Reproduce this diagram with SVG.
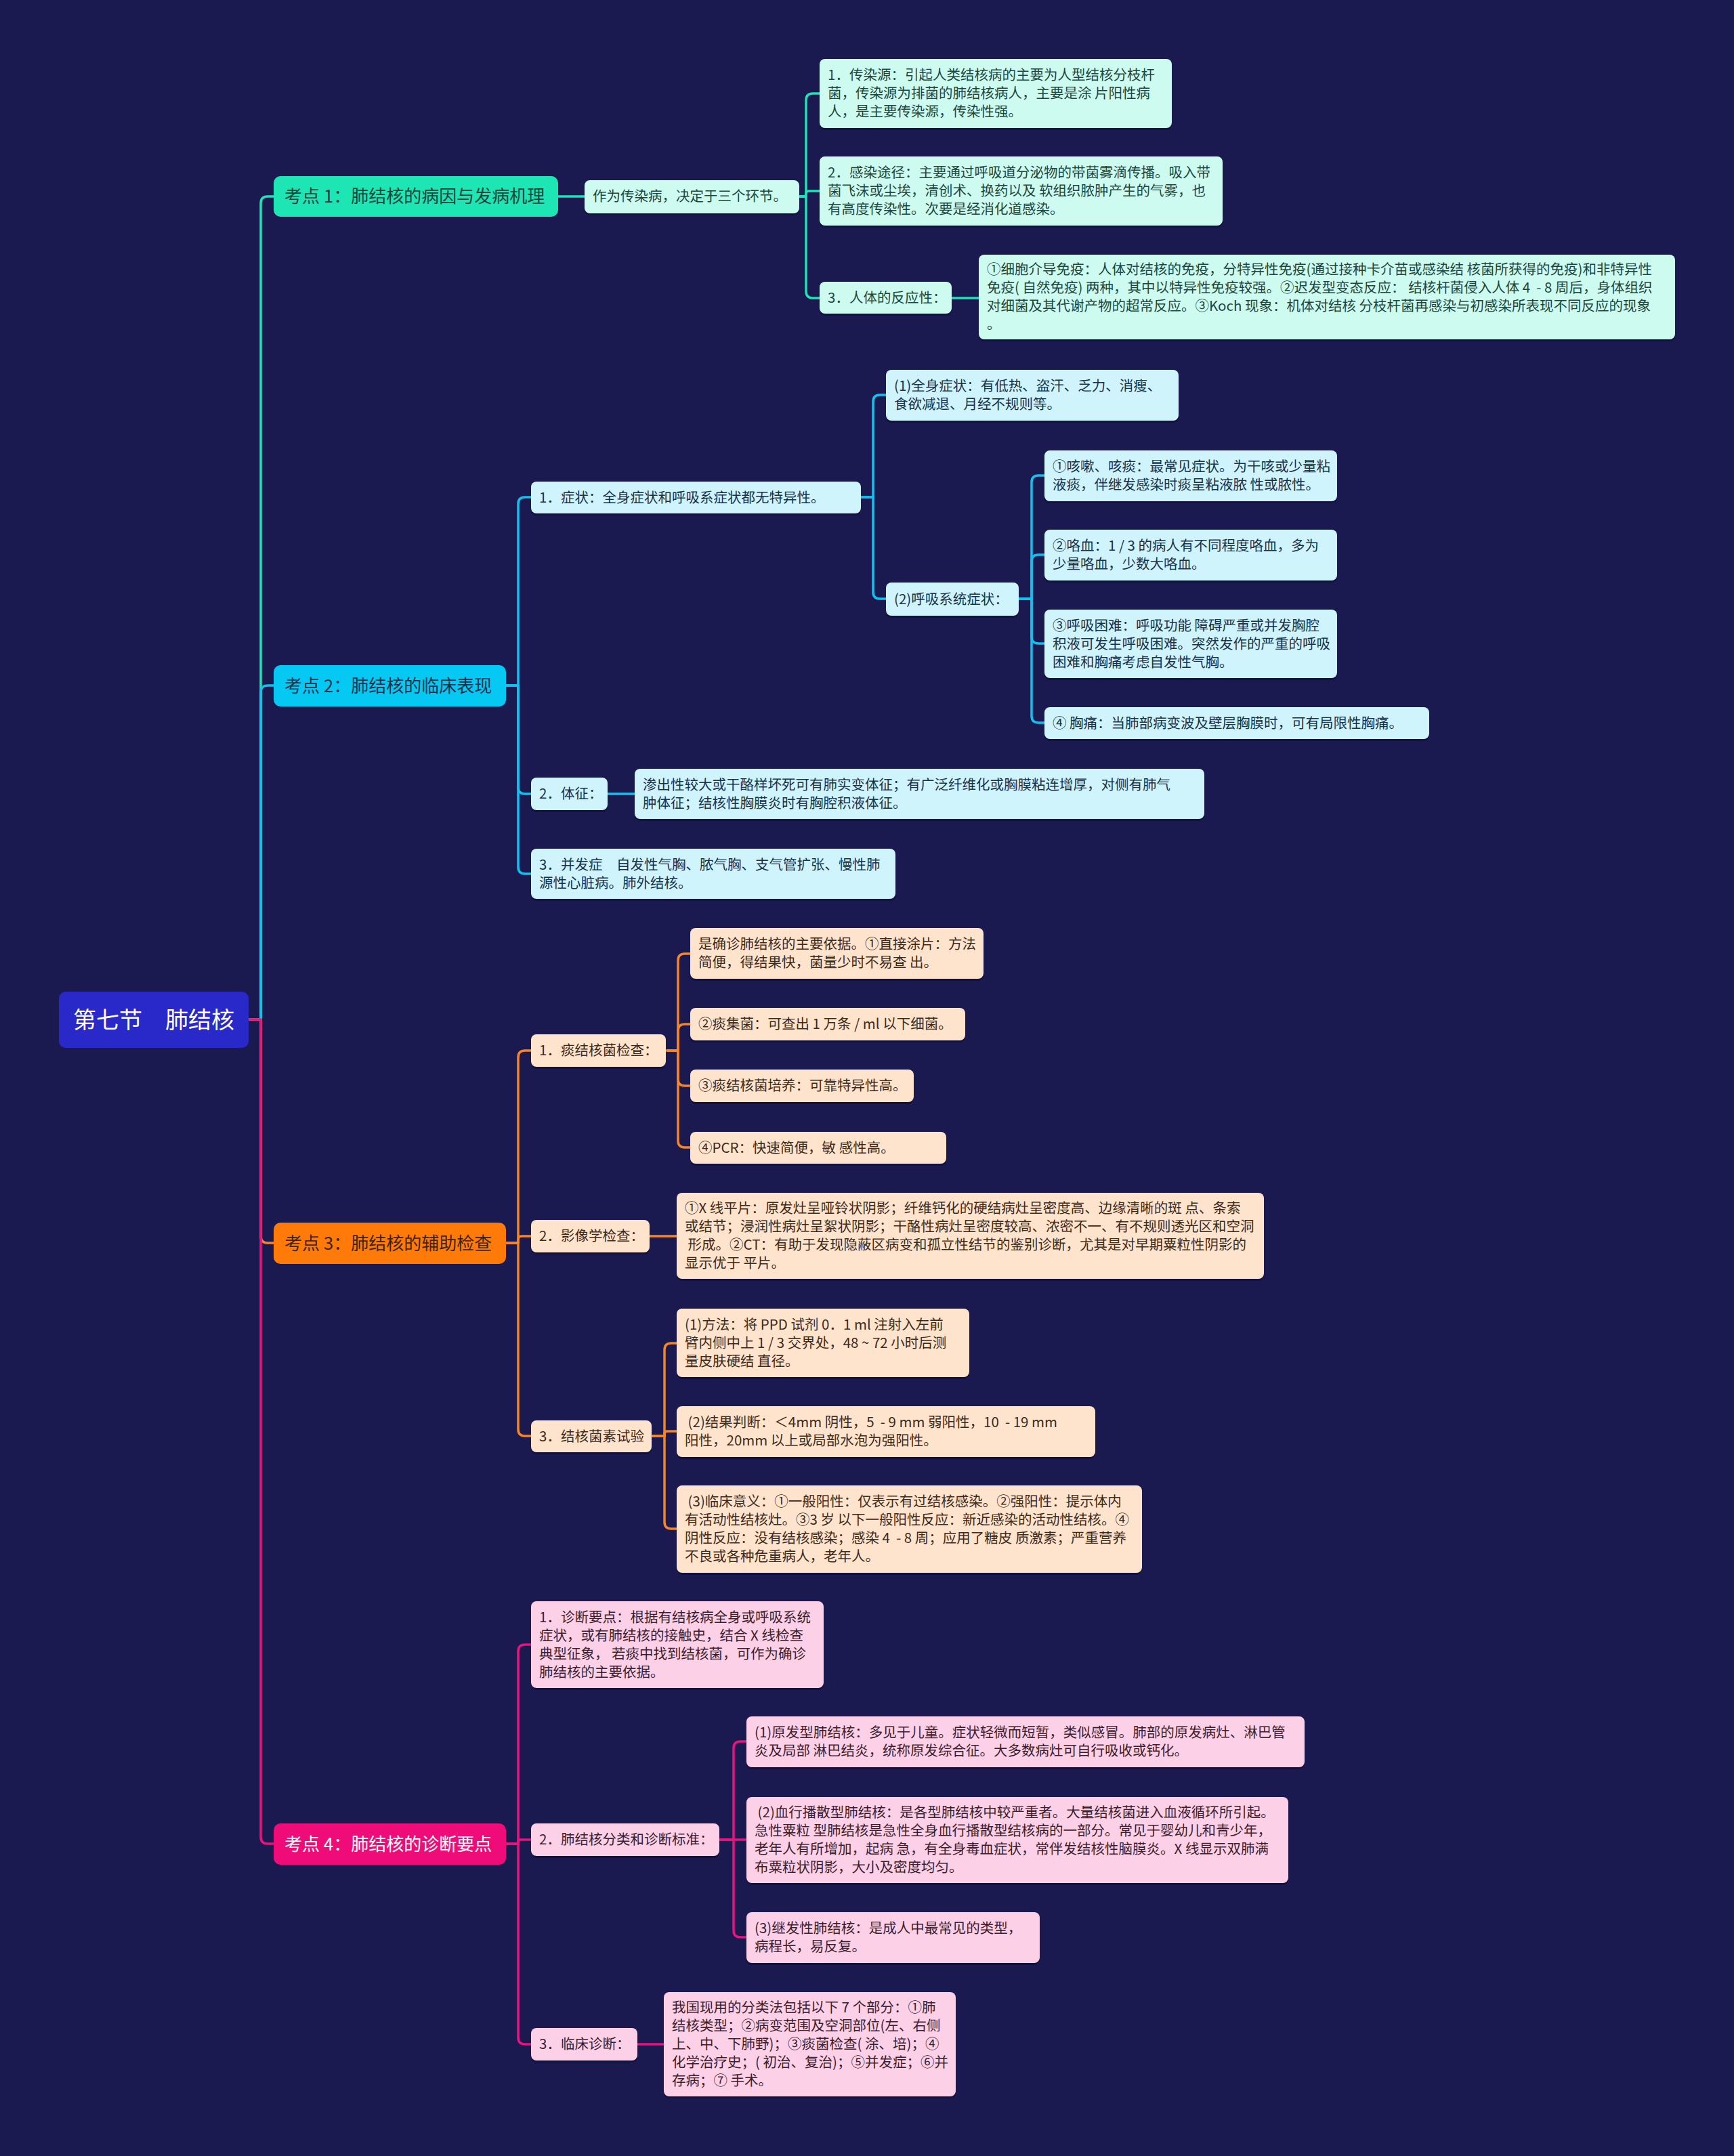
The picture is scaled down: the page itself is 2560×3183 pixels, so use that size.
<svg xmlns="http://www.w3.org/2000/svg" width="2560" height="3183" viewBox="0 0 2560 3183">
<style>
text { font-family: "Noto Sans CJK SC", "Noto Sans", sans-serif; white-space: pre; }
.t { font-size: 20.5px; }
.l1 { font-size: 26px; }
.root { font-size: 34px; fill: #ffffff; }
.sh { fill: #0c0b2e; opacity: 0.55; }
.c { fill: none; stroke-width: 3.5; stroke-linecap: round; stroke-linejoin: round; }
.cg { stroke: #1de3b6; }
.cc { stroke: #12c2ee; }
.co { stroke: #f2862a; }
.cp { stroke: #e8137c; }
.ng { fill: #cdfbef; } .tg { fill: #1d463d; }
.nc { fill: #d0f4fc; } .tc { fill: #17324a; }
.no { fill: #fee4cc; } .to { fill: #3d2a1a; }
.np { fill: #fcd0e6; } .tp { fill: #3b1d2d; }
</style>
<rect x="0" y="0" width="2560" height="3183" fill="#1b1a50"/>

<g id="connectors">
  <path class="c cg" d="M367 1505 H385 V300 Q385 290 395 290 H404"/>
  <path class="c cc" d="M367 1505 H385 V1022 Q385 1012 395 1012 H404"/>
  <path class="c co" d="M367 1505 H385 V1825 Q385 1835 395 1835 H404"/>
  <path class="c cp" d="M367 1505 H385 V2712 Q385 2722 395 2722 H404"/>

  <path class="c cg" d="M824 290 H863"/>
  <path class="c cg" d="M1180 290 H1190 V148 Q1190 138 1200 138 H1210"/>
  <path class="c cg" d="M1180 290 H1190 V286 Q1190 282 1194 282 H1210"/>
  <path class="c cg" d="M1180 290 H1190 V430 Q1190 440 1200 440 H1210"/>
  <path class="c cg" d="M1405 440 H1445"/>

  <path class="c cc" d="M747 1012 H765 V744 Q765 734 775 734 H784"/>
  <path class="c cc" d="M747 1012 H765 V1162 Q765 1172 775 1172 H784"/>
  <path class="c cc" d="M747 1012 H765 V1280 Q765 1290 775 1290 H784"/>
  <path class="c cc" d="M1271 734 H1289 V593 Q1289 583 1299 583 H1308"/>
  <path class="c cc" d="M1271 734 H1289 V874 Q1289 884 1299 884 H1308"/>
  <path class="c cc" d="M1504 884 H1523 V712 Q1523 702 1533 702 H1542"/>
  <path class="c cc" d="M1504 884 H1523 V829 Q1523 819 1533 819 H1542"/>
  <path class="c cc" d="M1504 884 H1523 V940 Q1523 950 1533 950 H1542"/>
  <path class="c cc" d="M1504 884 H1523 V1057 Q1523 1067 1533 1067 H1542"/>
  <path class="c cc" d="M897 1172 H937"/>

  <path class="c co" d="M747 1835 H765 V1561 Q765 1551 775 1551 H784"/>
  <path class="c co" d="M747 1835 H765 V1830 Q765 1825 770 1825 H784"/>
  <path class="c co" d="M747 1835 H765 V2110 Q765 2120 775 2120 H784"/>
  <path class="c co" d="M985 1551 H1001 V1418 Q1001 1408 1011 1408 H1019"/>
  <path class="c co" d="M985 1551 H1001 V1522 Q1001 1512 1011 1512 H1019"/>
  <path class="c co" d="M985 1551 H1001 V1593 Q1001 1603 1011 1603 H1019"/>
  <path class="c co" d="M985 1551 H1001 V1684 Q1001 1694 1011 1694 H1019"/>
  <path class="c co" d="M958 1825 H999"/>
  <path class="c co" d="M964 2120 H981 V1993 Q981 1983 991 1983 H999"/>
  <path class="c co" d="M964 2120 H981 V2117 Q981 2113 985 2113 H999"/>
  <path class="c co" d="M964 2120 H981 V2247 Q981 2257 991 2257 H999"/>

  <path class="c cp" d="M747 2722 H765 V2438 Q765 2428 775 2428 H784"/>
  <path class="c cp" d="M747 2722 H765 V2719 Q765 2716 768 2716 H784"/>
  <path class="c cp" d="M747 2722 H765 V3008 Q765 3018 775 3018 H784"/>
  <path class="c cp" d="M1062 2716 H1083 V2581 Q1083 2571 1093 2571 H1102"/>
  <path class="c cp" d="M1062 2716 H1102"/>
  <path class="c cp" d="M1062 2716 H1083 V2850 Q1083 2860 1093 2860 H1102"/>
  <path class="c cp" d="M941 3018 H980"/>
</g>

<g id="root">
  <rect x="87" y="1464" width="280" height="83" rx="10" fill="#2929c9"/>
  <text class="root" x="227" y="1518" text-anchor="middle">第七节　肺结核</text>
</g>

<g id="b1">
  <rect x="404" y="260" width="420" height="60" rx="10" fill="#1de6b4"/>
  <text class="l1" x="420" y="299" fill="#1b4238">考点 1：肺结核的病因与发病机理</text>
</g>
<g id="b2">
  <rect x="404" y="982" width="343" height="61" rx="10" fill="#05c9f3"/>
  <text class="l1" x="420" y="1022" fill="#17314a">考点 2：肺结核的临床表现</text>
</g>
<g id="b3">
  <rect x="404" y="1805" width="343" height="61" rx="10" fill="#ff7a08"/>
  <text class="l1" x="420" y="1845" fill="#3a2412">考点 3：肺结核的辅助检查</text>
</g>
<g id="b4">
  <rect x="404" y="2692" width="343" height="61" rx="10" fill="#f00c78"/>
  <text class="l1" x="420" y="2732" fill="#ffffff">考点 4：肺结核的诊断要点</text>
</g>

<g id="b1-1">
  <rect class="sh" x="863" y="269" width="317" height="49" rx="8"/>
  <rect class="ng" x="863" y="266" width="317" height="49" rx="8"/>
  <text class="t tg" x="875" y="297">作为传染病，决定于三个环节。</text>
</g>
<g id="g1">
  <rect class="sh" x="1210" y="90" width="520" height="102" rx="8"/>
  <rect class="ng" x="1210" y="87" width="520" height="102" rx="8"/>
  <text class="t tg" x="1222" y="118">1．传染源：引起人类结核病的主要为人型结核分枝杆</text>
  <text class="t tg" x="1222" y="145">菌，传染源为排菌的肺结核病人，主要是涂 片阳性病</text>
  <text class="t tg" x="1222" y="172">人，是主要传染源，传染性强。</text>
</g>
<g id="g2">
  <rect class="sh" x="1210" y="234" width="595" height="102" rx="8"/>
  <rect class="ng" x="1210" y="231" width="595" height="102" rx="8"/>
  <text class="t tg" x="1222" y="262">2．感染途径：主要通过呼吸道分泌物的带菌雾滴传播。吸入带</text>
  <text class="t tg" x="1222" y="289">菌飞沫或尘埃，清创术、换药以及 软组织脓肿产生的气雾，也</text>
  <text class="t tg" x="1222" y="316">有高度传染性。次要是经消化道感染。</text>
</g>
<g id="g3">
  <rect class="sh" x="1210" y="419" width="195" height="47" rx="8"/>
  <rect class="ng" x="1210" y="416" width="195" height="47" rx="8"/>
  <text class="t tg" x="1222" y="446.5">3．人体的反应性：</text>
</g>
<g id="g3-1">
  <rect class="sh" x="1445" y="379" width="1028" height="125" rx="8"/>
  <rect class="ng" x="1445" y="376" width="1028" height="125" rx="8"/>
  <text class="t tg" x="1457" y="405">①细胞介导免疫：人体对结核的免疫，分特异性免疫(通过接种卡介苗或感染结 核菌所获得的免疫)和非特异性</text>
  <text class="t tg" x="1457" y="432">免疫( 自然免疫) 两种，其中以特异性免疫较强。②迟发型变态反应： 结核杆菌侵入人体 4  - 8 周后，身体组织</text>
  <text class="t tg" x="1457" y="459">对细菌及其代谢产物的超常反应。③Koch 现象：机体对结核 分枝杆菌再感染与初感染所表现不同反应的现象</text>
  <text class="t tg" x="1457" y="486">。</text>
</g>

<g id="c1">
  <rect class="sh" x="784" y="714" width="487" height="47" rx="8"/>
  <rect class="nc" x="784" y="711" width="487" height="47" rx="8"/>
  <text class="t tc" x="796" y="741.5">1．症状：全身症状和呼吸系症状都无特异性。</text>
</g>
<g id="c1a">
  <rect class="sh" x="1308" y="549" width="432" height="75" rx="8"/>
  <rect class="nc" x="1308" y="546" width="432" height="75" rx="8"/>
  <text class="t tc" x="1320" y="577">(1)全身症状：有低热、盗汗、乏力、消瘦、</text>
  <text class="t tc" x="1320" y="604">食欲减退、月经不规则等。</text>
</g>
<g id="c1b">
  <rect class="sh" x="1308" y="863" width="196" height="49" rx="8"/>
  <rect class="nc" x="1308" y="860" width="196" height="49" rx="8"/>
  <text class="t tc" x="1320" y="891.5">(2)呼吸系统症状：</text>
</g>
<g id="c1b1">
  <rect class="sh" x="1542" y="668" width="432" height="75" rx="8"/>
  <rect class="nc" x="1542" y="665" width="432" height="75" rx="8"/>
  <text class="t tc" x="1554" y="696">①咳嗽、咳痰：最常见症状。为干咳或少量粘</text>
  <text class="t tc" x="1554" y="723">液痰，伴继发感染时痰呈粘液脓 性或脓性。</text>
</g>
<g id="c1b2">
  <rect class="sh" x="1542" y="785" width="432" height="75" rx="8"/>
  <rect class="nc" x="1542" y="782" width="432" height="75" rx="8"/>
  <text class="t tc" x="1554" y="813">②咯血：1 / 3 的病人有不同程度咯血，多为</text>
  <text class="t tc" x="1554" y="840">少量咯血，少数大咯血。</text>
</g>
<g id="c1b3">
  <rect class="sh" x="1542" y="903" width="432" height="101" rx="8"/>
  <rect class="nc" x="1542" y="900" width="432" height="101" rx="8"/>
  <text class="t tc" x="1554" y="930.5">③呼吸困难：呼吸功能 障碍严重或并发胸腔</text>
  <text class="t tc" x="1554" y="957.5">积液可发生呼吸困难。突然发作的严重的呼吸</text>
  <text class="t tc" x="1554" y="984.5">困难和胸痛考虑自发性气胸。</text>
</g>
<g id="c1b4">
  <rect class="sh" x="1542" y="1047" width="568" height="47" rx="8"/>
  <rect class="nc" x="1542" y="1044" width="568" height="47" rx="8"/>
  <text class="t tc" x="1554" y="1074.5">④ 胸痛：当肺部病变波及壁层胸膜时，可有局限性胸痛。</text>
</g>
<g id="c2">
  <rect class="sh" x="784" y="1151" width="113" height="48" rx="8"/>
  <rect class="nc" x="784" y="1148" width="113" height="48" rx="8"/>
  <text class="t tc" x="796" y="1179">2．体征：</text>
</g>
<g id="c2a">
  <rect class="sh" x="937" y="1138" width="841" height="74" rx="8"/>
  <rect class="nc" x="937" y="1135" width="841" height="74" rx="8"/>
  <text class="t tc" x="949" y="1165.5">渗出性较大或干酪样坏死可有肺实变体征；有广泛纤维化或胸膜粘连增厚，对侧有肺气</text>
  <text class="t tc" x="949" y="1192.5">肿体征；结核性胸膜炎时有胸腔积液体征。</text>
</g>
<g id="c3">
  <rect class="sh" x="784" y="1256" width="538" height="74" rx="8"/>
  <rect class="nc" x="784" y="1253" width="538" height="74" rx="8"/>
  <text class="t tc" x="796" y="1283.5">3．并发症　自发性气胸、脓气胸、支气管扩张、慢性肺</text>
  <text class="t tc" x="796" y="1310.5">源性心脏病。肺外结核。</text>
</g>

<g id="d1">
  <rect class="sh" x="784" y="1530" width="199" height="48" rx="8"/>
  <rect class="no" x="784" y="1527" width="199" height="48" rx="8"/>
  <text class="t to" x="796" y="1558">1．痰结核菌检查：</text>
</g>
<g id="d1a">
  <rect class="sh" x="1019" y="1373" width="433" height="75" rx="8"/>
  <rect class="no" x="1019" y="1370" width="433" height="75" rx="8"/>
  <text class="t to" x="1031" y="1401">是确诊肺结核的主要依据。①直接涂片：方法</text>
  <text class="t to" x="1031" y="1428">简便，得结果快，菌量少时不易查 出。</text>
</g>
<g id="d1b">
  <rect class="sh" x="1019" y="1491" width="406" height="48" rx="8"/>
  <rect class="no" x="1019" y="1488" width="406" height="48" rx="8"/>
  <text class="t to" x="1031" y="1519">②痰集菌：可查出 1 万条 / ml 以下细菌。</text>
</g>
<g id="d1c">
  <rect class="sh" x="1019" y="1582" width="330" height="48" rx="8"/>
  <rect class="no" x="1019" y="1579" width="330" height="48" rx="8"/>
  <text class="t to" x="1031" y="1610">③痰结核菌培养：可靠特异性高。</text>
</g>
<g id="d1d">
  <rect class="sh" x="1019" y="1674" width="378" height="47" rx="8"/>
  <rect class="no" x="1019" y="1671" width="378" height="47" rx="8"/>
  <text class="t to" x="1031" y="1701.5">④PCR：快速简便，敏 感性高。</text>
</g>
<g id="d2">
  <rect class="sh" x="784" y="1804" width="175" height="48" rx="8"/>
  <rect class="no" x="784" y="1801" width="175" height="48" rx="8"/>
  <text class="t to" x="796" y="1832">2．影像学检查：</text>
</g>
<g id="d2a">
  <rect class="sh" x="999" y="1764" width="867" height="127" rx="8"/>
  <rect class="no" x="999" y="1761" width="867" height="127" rx="8"/>
  <text class="t to" x="1011" y="1791">①X 线平片：原发灶呈哑铃状阴影；纤维钙化的硬结病灶呈密度高、边缘清晰的斑 点、条索</text>
  <text class="t to" x="1011" y="1818">或结节；浸润性病灶呈絮状阴影；干酪性病灶呈密度较高、浓密不一、有不规则透光区和空洞</text>
  <text class="t to" x="1011" y="1845"> 形成。②CT：有助于发现隐蔽区病变和孤立性结节的鉴别诊断，尤其是对早期粟粒性阴影的</text>
  <text class="t to" x="1011" y="1872">显示优于 平片。</text>
</g>
<g id="d3">
  <rect class="sh" x="784" y="2100" width="178" height="47" rx="8"/>
  <rect class="no" x="784" y="2097" width="178" height="47" rx="8"/>
  <text class="t to" x="796" y="2127.5">3．结核菌素试验</text>
</g>
<g id="d3a">
  <rect class="sh" x="999" y="1935" width="432" height="101" rx="8"/>
  <rect class="no" x="999" y="1932" width="432" height="101" rx="8"/>
  <text class="t to" x="1011" y="1962.5">(1)方法：将 PPD 试剂 0．1 ml 注射入左前</text>
  <text class="t to" x="1011" y="1989.5">臂内侧中上 1 / 3 交界处，48 ~ 72 小时后测</text>
  <text class="t to" x="1011" y="2016.5">量皮肤硬结 直径。</text>
</g>
<g id="d3b">
  <rect class="sh" x="999" y="2079" width="618" height="75" rx="8"/>
  <rect class="no" x="999" y="2076" width="618" height="75" rx="8"/>
  <text class="t to" x="1011" y="2107"> (2)结果判断：＜4mm 阴性，5  - 9 mm 弱阳性，10  - 19 mm</text>
  <text class="t to" x="1011" y="2134">阳性，20mm 以上或局部水泡为强阳性。</text>
</g>
<g id="d3c">
  <rect class="sh" x="999" y="2196" width="687" height="129" rx="8"/>
  <rect class="no" x="999" y="2193" width="687" height="129" rx="8"/>
  <text class="t to" x="1011" y="2224"> (3)临床意义：①一般阳性：仅表示有过结核感染。②强阳性：提示体内</text>
  <text class="t to" x="1011" y="2251">有活动性结核灶。③3 岁 以下一般阳性反应：新近感染的活动性结核。④</text>
  <text class="t to" x="1011" y="2278">阴性反应：没有结核感染；感染 4  - 8 周；应用了糖皮 质激素；严重营养</text>
  <text class="t to" x="1011" y="2305">不良或各种危重病人，老年人。</text>
</g>

<g id="e1">
  <rect class="sh" x="784" y="2367" width="432" height="128" rx="8"/>
  <rect class="np" x="784" y="2364" width="432" height="128" rx="8"/>
  <text class="t tp" x="796" y="2394.5">1．诊断要点：根据有结核病全身或呼吸系统</text>
  <text class="t tp" x="796" y="2421.5">症状，或有肺结核的接触史，结合 X 线检查</text>
  <text class="t tp" x="796" y="2448.5">典型征象， 若痰中找到结核菌，可作为确诊</text>
  <text class="t tp" x="796" y="2475.5">肺结核的主要依据。</text>
</g>
<g id="e2">
  <rect class="sh" x="784" y="2695" width="278" height="48" rx="8"/>
  <rect class="np" x="784" y="2692" width="278" height="48" rx="8"/>
  <text class="t tp" x="796" y="2723">2．肺结核分类和诊断标准：</text>
</g>
<g id="e2a">
  <rect class="sh" x="1102" y="2537" width="824" height="75" rx="8"/>
  <rect class="np" x="1102" y="2534" width="824" height="75" rx="8"/>
  <text class="t tp" x="1114" y="2565">(1)原发型肺结核：多见于儿童。症状轻微而短暂，类似感冒。肺部的原发病灶、淋巴管</text>
  <text class="t tp" x="1114" y="2592">炎及局部 淋巴结炎，统称原发综合征。大多数病灶可自行吸收或钙化。</text>
</g>
<g id="e2b">
  <rect class="sh" x="1102" y="2656" width="800" height="127" rx="8"/>
  <rect class="np" x="1102" y="2653" width="800" height="127" rx="8"/>
  <text class="t tp" x="1114" y="2683"> (2)血行播散型肺结核：是各型肺结核中较严重者。大量结核菌进入血液循环所引起。</text>
  <text class="t tp" x="1114" y="2710">急性粟粒 型肺结核是急性全身血行播散型结核病的一部分。常见于婴幼儿和青少年，</text>
  <text class="t tp" x="1114" y="2737">老年人有所增加，起病 急，有全身毒血症状，常伴发结核性脑膜炎。X 线显示双肺满</text>
  <text class="t tp" x="1114" y="2764">布粟粒状阴影，大小及密度均匀。</text>
</g>
<g id="e2c">
  <rect class="sh" x="1102" y="2826" width="433" height="75" rx="8"/>
  <rect class="np" x="1102" y="2823" width="433" height="75" rx="8"/>
  <text class="t tp" x="1114" y="2854">(3)继发性肺结核：是成人中最常见的类型，</text>
  <text class="t tp" x="1114" y="2881">病程长，易反复。</text>
</g>
<g id="e3">
  <rect class="sh" x="784" y="2997" width="157" height="48" rx="8"/>
  <rect class="np" x="784" y="2994" width="157" height="48" rx="8"/>
  <text class="t tp" x="796" y="3025">3．临床诊断：</text>
</g>
<g id="e3a">
  <rect class="sh" x="980" y="2944" width="431" height="154" rx="8"/>
  <rect class="np" x="980" y="2941" width="431" height="154" rx="8"/>
  <text class="t tp" x="992" y="2971">我国现用的分类法包括以下 7 个部分：①肺</text>
  <text class="t tp" x="992" y="2998">结核类型；②病变范围及空洞部位(左、右侧</text>
  <text class="t tp" x="992" y="3025">上、中、下肺野)；③痰菌检查( 涂、培)；④</text>
  <text class="t tp" x="992" y="3052">化学治疗史；( 初治、复治)；⑤并发症；⑥并</text>
  <text class="t tp" x="992" y="3079">存病；⑦ 手术。</text>
</g>
</svg>
